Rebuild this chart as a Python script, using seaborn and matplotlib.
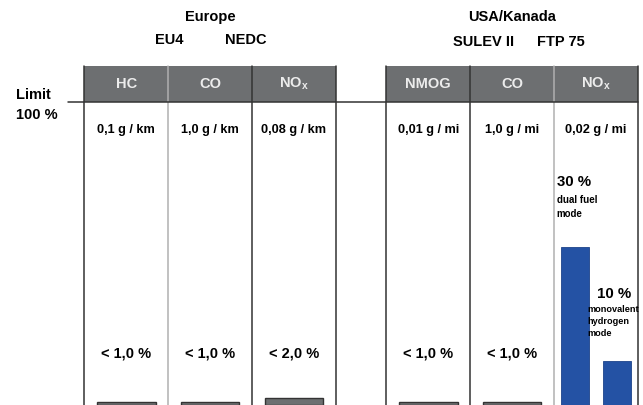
import numpy as np
import pandas as pd
import matplotlib
matplotlib.use("Agg")
import matplotlib.pyplot as plt
import matplotlib.transforms as mtransforms
from matplotlib.patches import Rectangle
import seaborn as sns

# emissions as share of the legal limit (%)
eu_pollutants = ["HC", "CO", "NO$_\\mathregular{x}$"]
eu_limits = ["0,1 g / km", "1,0 g / km", "0,08 g / km"]
eu_share = [1.0, 1.0, 2.0]
eu_share_labels = ["< 1,0 %", "< 1,0 %", "< 2,0 %"]

us_pollutants = ["NMOG", "CO", "NO$_\\mathregular{x}$"]
us_limits = ["0,01 g / mi", "1,0 g / mi", "0,02 g / mi"]
us_share = [1.0, 1.0]
us_share_labels = ["< 1,0 %", "< 1,0 %"]

nox_modes = ["dual fuel\nmode", "monovalent\nhydrogen\nmode"]
nox_share = [30, 10]
nox_share_labels = ["30 %", "10 %"]

limit_share = 100

GRAY = "#6d6f71"
BLUE = "#2452a4"
DARK = "#333333"
LIGHT = "#b0b0b0"

# column positions: two groups of three with a gap between them
eu_x = [0.0, 1.0, 2.0]
us_x = [3.6, 4.6, 5.6]


# stylised axis: power-like in the low range, compressed above 40 %
A, P, VB = 3.03, 1.163, 40.0
UB = A * VB ** P
K = (303 - UB) / (limit_share - VB)


def fwd(v):
    v = np.asarray(v, dtype=float)
    vc = np.clip(v, 0, None)
    return np.where(v <= VB, A * vc ** P, UB + (v - VB) * K)


def inv(u):
    u = np.asarray(u, dtype=float)
    uc = np.clip(u, 0, None)
    return np.where(u <= UB, (uc / A) ** (1 / P), VB + (u - UB) / K)


sns.set_style("white")
plt.rcParams["font.family"] = ["Liberation Sans", "DejaVu Sans"]
plt.rcParams["text.color"] = "black"

fig = plt.figure(figsize=(6.43, 4.05), dpi=100)
ax = fig.add_axes([0, 0, 1, 303 / 405])

gray_df = pd.DataFrame({"x": eu_x + us_x[:2], "share": eu_share + us_share})
nox_df = pd.DataFrame({"x": [us_x[2]] * 2, "share": nox_share, "mode": nox_modes})

sns.barplot(data=gray_df, x="x", y="share", native_scale=True, width=0.7,
            color=GRAY, saturation=1, edgecolor=DARK, linewidth=1,
            errorbar=None, ax=ax)
sns.barplot(data=nox_df, x="x", y="share", hue="mode", native_scale=True,
            width=1.0, gap=0.35, palette=[BLUE, BLUE], saturation=1,
            edgecolor="#1d438a", linewidth=0.6, errorbar=None, legend=False,
            ax=ax)

ax.set_yscale("function", functions=(fwd, inv))
ax.set_ylim(0, limit_share)
ax.set_xlim(-1.504, 6.16)
ax.set_axis_off()

tr = mtransforms.blended_transform_factory(ax.transData, ax.transAxes)
head_h = 36 / 303


def fy(py):
    # pixel row -> axes fraction
    return (405 - py) / 303


def draw_group(xs, names, limits, edge_colors):
    for x, name, lim in zip(xs, names, limits):
        ax.add_patch(Rectangle((x - 0.5, 1), 1, head_h, transform=tr,
                               facecolor=GRAY, edgecolor="none", clip_on=False))
        ax.text(x, 1 + head_h / 2, name, transform=tr, ha="center", va="center",
                color="#ececec", fontsize=10.5, fontweight="bold", clip_on=False)
        ax.text(x, fy(130), lim, transform=tr, ha="center", va="center",
                fontsize=9.2, fontweight="bold")
    edges = [xs[0] - 0.5] + [x + 0.5 for x in xs]
    for e, c in zip(edges, edge_colors):
        ax.plot([e, e], [0, 1 + head_h], transform=tr, color=c, lw=1.1,
                clip_on=False)


draw_group(eu_x, eu_pollutants, eu_limits, [DARK, LIGHT, DARK, DARK])
draw_group(us_x, us_pollutants, us_limits, [DARK, DARK, LIGHT, DARK])

# limit line (100 %)
ax.plot([eu_x[0] - 0.69, us_x[2] + 0.5], [limit_share, limit_share],
        color=DARK, lw=1.1, clip_on=False)
fig.text(16 / 643, 1 - 95 / 405, "Limit", fontsize=10.5, fontweight="bold",
         va="center")
fig.text(16 / 643, 1 - 115 / 405, "100 %", fontsize=10.5, fontweight="bold",
         va="center")

# share labels for the small bars
for x, lab in zip(eu_x + us_x[:2], eu_share_labels + us_share_labels):
    ax.text(x, fy(353), lab, transform=tr, ha="center", va="center",
            fontsize=10.5, fontweight="bold")

# NOx hydrogen modes
nx = us_x[2]
ax.text(nx - 0.47, fy(182), nox_share_labels[0], transform=tr, ha="left",
        va="center", fontsize=10.8, fontweight="bold")
ax.text(nx - 0.47, fy(195), nox_modes[0], transform=tr, ha="left", va="top",
        fontsize=7, fontweight="bold", linespacing=1.45)
ax.text(nx + 0.22, fy(294), nox_share_labels[1], transform=tr, ha="center",
        va="center", fontsize=10.8, fontweight="bold")
ax.text(nx - 0.1, fy(305), nox_modes[1], transform=tr, ha="left", va="top",
        fontsize=6.6, fontweight="bold", linespacing=1.45)

# region titles
ax.text(eu_x[1], fy(17), "Europe", transform=tr, ha="center", va="center",
        fontsize=10.5, fontweight="bold")
ax.text(eu_x[1] - 0.32, fy(40), "EU4", transform=tr, ha="right", va="center",
        fontsize=10.5, fontweight="bold")
ax.text(eu_x[1] + 0.18, fy(40), "NEDC", transform=tr, ha="left", va="center",
        fontsize=10.5, fontweight="bold")
ax.text(us_x[1], fy(17), "USA/Kanada", transform=tr, ha="center", va="center",
        fontsize=10.5, fontweight="bold")
ax.text(us_x[1] + 0.02, fy(42), "SULEV II", transform=tr, ha="right",
        va="center", fontsize=10.5, fontweight="bold")
ax.text(us_x[1] + 0.3, fy(42), "FTP 75", transform=tr, ha="left",
        va="center", fontsize=10.5, fontweight="bold")

fig.savefig("out.png", dpi=100)
